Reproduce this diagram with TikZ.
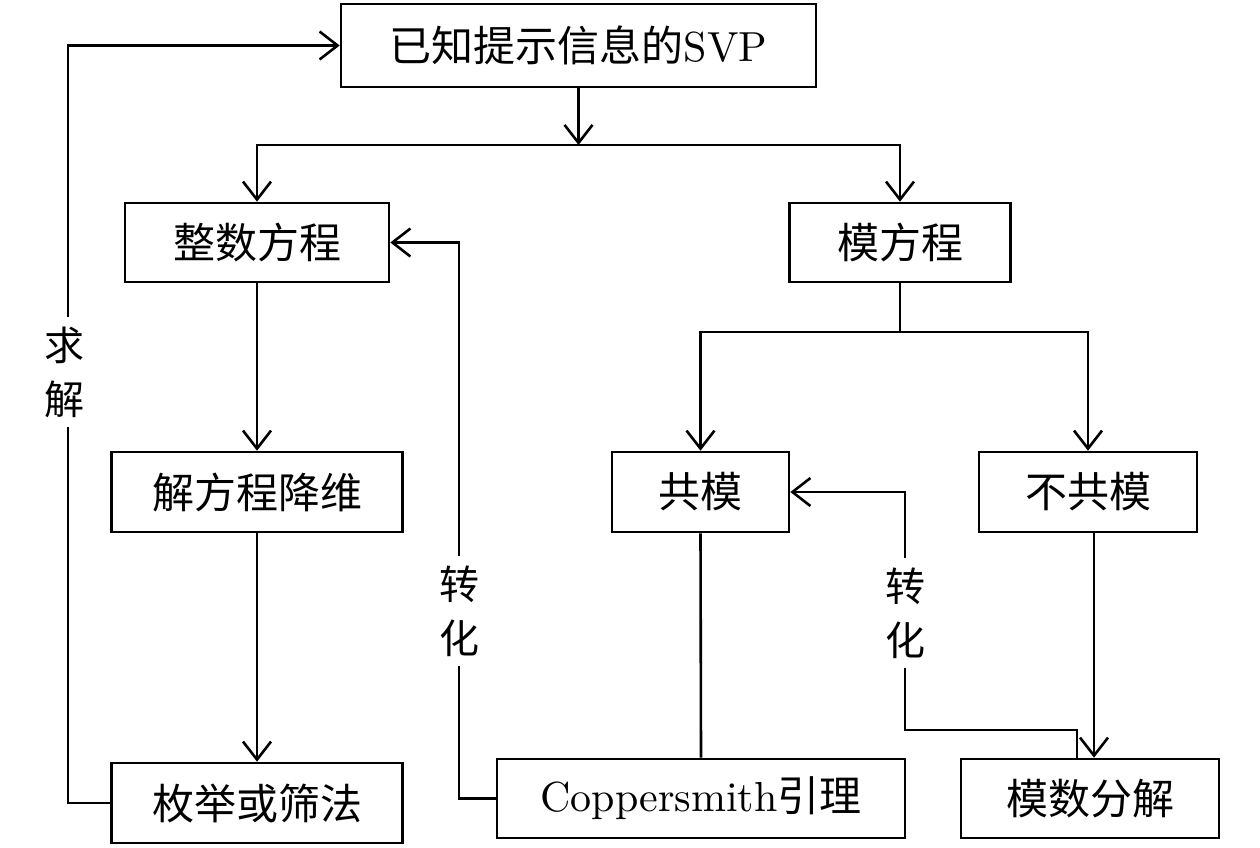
\documentclass[tikz,border=0pt]{standalone}
\usepackage{fontspec}
\setmainfont{lmroman10-regular.otf}
\newfontfamily\cjk{Noto Sans CJK SC}
\usetikzlibrary{arrows.meta}
\begin{document}
\begin{tikzpicture}[x=1pt,y=-1pt,
  line width=2.6pt,
  >={Straight Barb[length=18pt,width=28pt]},
  box/.style={draw,inner sep=0pt,minimum height=80pt,font=\fontsize{42}{50}\selectfont},
  lab/.style={fill=white,inner xsep=4pt,inner ysep=10pt,align=center,font=\fontsize{40}{54}\selectfont\cjk}]
\useasboundingbox (0,0) rectangle (1260,847);
\node[box,minimum width=475pt,minimum height=83pt] (top) at (578.5,45.5) {{\cjk 已知提示信息的}SVP};
\node[box,minimum width=264pt,minimum height=79pt] (zs) at (257,242.5) {\cjk 整数方程};
\node[box,minimum width=221pt,minimum height=79pt] (mfc) at (900,242.5) {\cjk 模方程};
\node[box,minimum width=291pt] (jfc) at (257,492) {\cjk 解方程降维};
\node[box,minimum width=177pt] (gm) at (700.5,492) {\cjk 共模};
\node[box,minimum width=218pt] (bgm) at (1088,492) {\cjk 不共模};
\node[box,minimum width=291pt] (mj) at (257,803) {\cjk 枚举或筛法};
\node[box,minimum width=408pt,minimum height=79pt] (cop) at (701,798.5) {Coppersmith{\cjk 引理}};
\node[box,minimum width=258pt,minimum height=79pt] (msfj) at (1090,798.5) {\cjk 模数分解};
\coordinate (s1) at (578.5,145);
\coordinate (s2) at (900,332);
\coordinate (lp) at (68,803);
\coordinate (cp) at (459,798.5);
\coordinate (rp) at (905,730);
\draw[->] (top.south) -- (s1);
\draw[->] (s1) -| (zs.north);
\draw[->] (s1) -| (mfc.north);
\draw (mfc.south) -- (s2);
\draw[->] (s2) -| (gm.north);
\draw[->] (s2) -| (bgm.north);
\draw[->] (zs.south) -- (jfc.north);
\draw[->] (jfc.south) -- (mj.north);
\draw (cop.north) -- (gm.south);
\draw[->] ([xshift=6pt]bgm.south) -- ([xshift=6pt]bgm.south |- msfj.north);
\draw[->] (mj.west) -- (lp) |- (top.west);
\draw[->] (cop.west) -- (cp) |- (zs.east);
\draw[->] ([xshift=-13pt]msfj.north) |- (rp) |- (gm.east);
\node[lab] (l1) at (64,372) {求\\解};
\node[lab] (l2) at (459,611) {转\\化};
\node[lab] (l3) at (905,613) {转\\化};
\end{tikzpicture}
\end{document}
